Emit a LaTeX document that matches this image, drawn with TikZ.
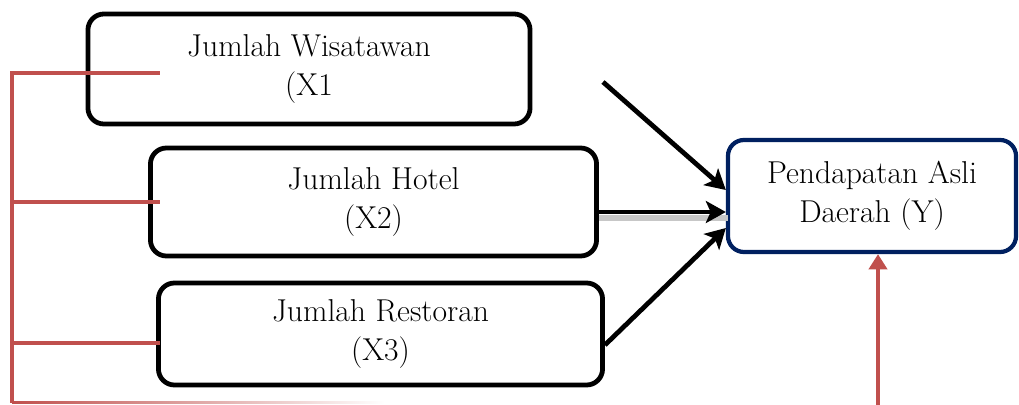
\documentclass[tikz,border=0pt]{standalone}
\usetikzlibrary{arrows.meta, calc}

\definecolor{frameRed}{HTML}{C0504D}
\definecolor{frameNavy}{HTML}{002060}

\tikzset{
  varbox/.style={draw, line width=3.4pt, rounded corners=0.4cm, align=center,
    font=\fontsize{22.5}{28}\selectfont, inner sep=0pt},
  blackarrow/.style={line width=3.4pt, -{Stealth[length=0.5cm, width=0.55cm, inset=0.12cm]}},
  redline/.style={frameRed, line width=2.8pt},
  redarrow/.style={frameRed, line width=3pt, -{Triangle[length=0.38cm, width=0.45cm]}}
}

\begin{document}
\begin{tikzpicture}[x=0.025cm, y=-0.025cm]
  \useasboundingbox (0,0) rectangle (1019,405);

  % Draw the boxes
  \node[varbox, minimum width=11.05cm, minimum height=2.75cm] (wisatawan) at (309,69)
    {Jumlah Wisatawan\\(X1};
  \node[varbox, minimum width=11.15cm, minimum height=2.7cm] (hotel) at (373.5,202)
    {Jumlah Hotel\\(X2)};
  \node[varbox, minimum width=11.1cm, minimum height=2.55cm] (restoran) at (380.5,334)
    {Jumlah Restoran\\(X3)};
  \node[varbox, draw=frameNavy, line width=3pt, minimum width=7.2cm, minimum height=2.8cm] (pad) at (872,196)
    {Pendapatan Asli\\Daerah (Y)};

  % Free ends of the connectors
  \coordinate (wisOut) at (603,82);
  \coordinate (padIn) at (878,405);
  \coordinate (bracketTop) at (12,73);
  \coordinate (bracketBot) at (12,403);
  \coordinate (tickA) at (160,73);
  \coordinate (tickB) at (160,202);
  \coordinate (tickC) at (160,343);

  % Draw the arrows into the Y box
  \draw[blackarrow] (wisOut) -- ($(pad.west)+(0,-6)$);
  \draw[black!22, line width=4pt] ($(hotel.east)+(0,16)$) -- ($(pad.west)+(2,22)$);
  \draw[blackarrow] ($(hotel.east)+(0,10)$) -- ($(pad.west)+(0,16)$);
  \draw[blackarrow] ($(restoran.east)+(0,11)$) -- ($(pad.west)+(0,32)$);
  \draw[redarrow] (padIn) -- (pad.south -| padIn);

  % Draw the red bracket on the left
  \draw[redline] ($(bracketTop)+(0,-1.5)$) -- (bracketBot);
  \draw[redline] (bracketTop) -- (tickA);
  \draw[redline] (bracketTop |- tickB) -- (tickB);
  \draw[redline] (bracketTop |- tickC) -- (tickC);
  \shade[left color=frameRed, right color=white] ($(bracketBot)+(0,-1)$) rectangle (385,404);

\end{tikzpicture}
\end{document}
